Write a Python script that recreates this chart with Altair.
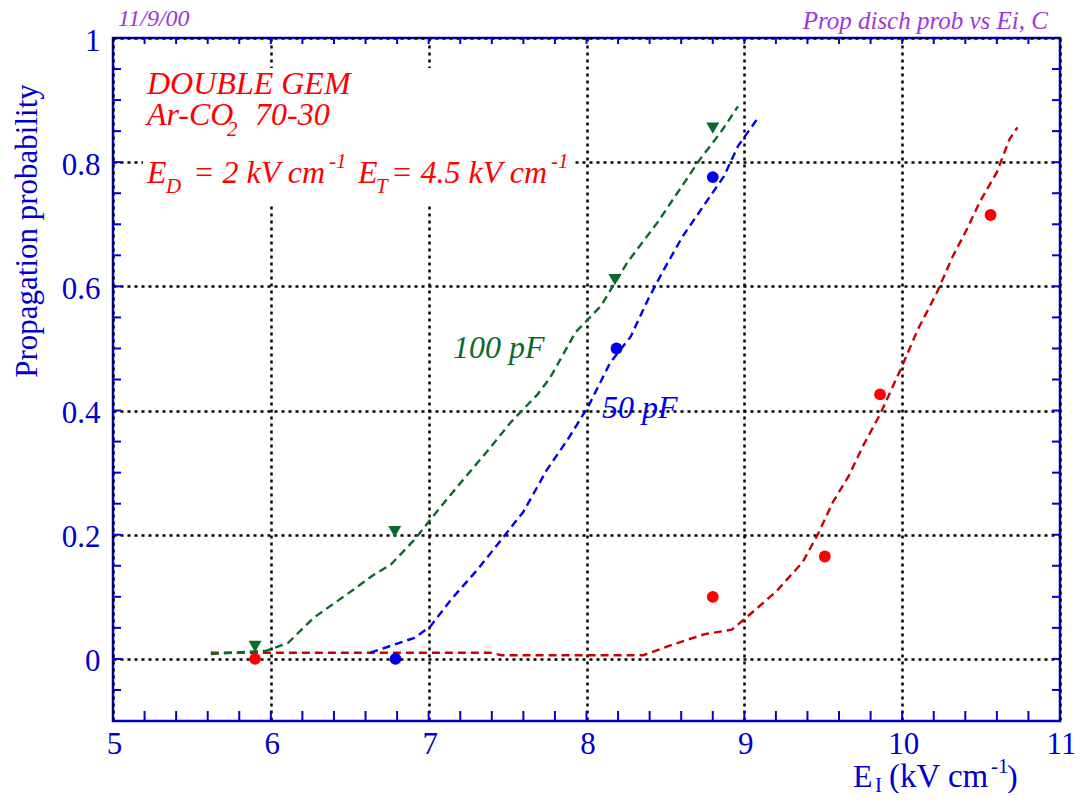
import altair as alt
import pandas as pd

# ---------------- data ----------------
red_pts_x = [5.90, 8.80, 9.51, 9.86, 10.56]
red_pts_y = [0.0, 0.100, 0.165, 0.426, 0.715]
blue_pts_x = [6.79, 8.19, 8.80]
blue_pts_y = [0.0, 0.500, 0.776]
green_pts_x = [5.90, 6.785, 8.18, 8.80]
green_pts_y = [0.020, 0.205, 0.611, 0.855]

red_curve_x = [5.62, 7.39, 7.46, 8.36, 8.58, 8.75, 8.92, 9.01, 9.20, 9.37, 9.47, 9.56,
               9.66, 9.75, 9.86, 9.99, 10.10, 10.22, 10.32, 10.41, 10.49, 10.60, 10.68, 10.73]
red_curve_y = [0.010, 0.010, 0.006, 0.006, 0.026, 0.040, 0.047, 0.066, 0.108, 0.156, 0.203, 0.252,
               0.294, 0.342, 0.394, 0.466, 0.531, 0.590, 0.648, 0.692, 0.735, 0.784, 0.837, 0.856]
blue_curve_x = [6.63, 6.91, 7.01, 7.14, 7.31, 7.46, 7.60, 7.75, 7.88, 8.01, 8.15, 8.28,
                8.39, 8.49, 8.61, 8.74, 8.87, 8.96, 9.08]
blue_curve_y = [0.010, 0.034, 0.052, 0.095, 0.144, 0.192, 0.237, 0.305, 0.353, 0.406, 0.477, 0.519,
                0.579, 0.627, 0.681, 0.729, 0.777, 0.826, 0.869]
green_curve_x = [5.62, 5.97, 6.11, 6.27, 6.46, 6.65, 6.76, 6.91, 7.06, 7.22, 7.37, 7.52, 7.69,
                 7.77, 7.93, 8.09, 8.26, 8.45, 8.58, 8.72, 8.85, 8.96]
green_curve_y = [0.008, 0.013, 0.026, 0.066, 0.100, 0.135, 0.152, 0.192, 0.240, 0.289, 0.334, 0.381,
                 0.426, 0.453, 0.526, 0.568, 0.639, 0.703, 0.752, 0.805, 0.848, 0.890]

x_major = [5, 6, 7, 8, 9, 10, 11]
y_major = [0, 0.2, 0.4, 0.6, 0.8, 1]
x_ticks = [round(5 + 0.2 * i, 2) for i in range(1, 30)]
y_ticks = [round(-0.1 + 0.05 * i, 2) for i in range(1, 22)]

# ---------------- layout ----------------
W, H = 947, 683
OX, OY = 113, 38  # page position of plot origin
FONT = "Liberation Serif"
AXC = "#0000cc"
RED, BLUE, GREEN = "#ff0000", "#0000ee", "#0a6b28"
RED_L, BLUE_L, GREEN_L = "#cc0000", "#0000ee", "#0a6b28"
PURPLE = "#a035dc"

xs = alt.Scale(domain=[5, 11], nice=False, zero=False)
ys = alt.Scale(domain=[-0.1, 1], nice=False, zero=False)

def pts_df(x, y):
    return pd.DataFrame({"x": x, "y": y})

def curve_df(x, y):
    return pd.DataFrame({"x": x, "y": y, "i": list(range(len(x)))})

base_x = alt.X("x:Q", scale=xs, axis=alt.Axis(
    values=x_major, title=None, ticks=False, domain=False, grid=True,
    gridColor="black", gridDash=[3, 4], gridWidth=2.5, labelFont=FONT,
    labelFontSize=31, labelColor=AXC, labelPadding=8, labelFlush=False, labelOffset=1,
    labelExpr="'' + datum.value"))
base_y = alt.Y("y:Q", scale=ys, axis=alt.Axis(
    values=y_major, title=None, ticks=False, domain=False, grid=True,
    gridColor="black", gridDash=[3, 4], gridWidth=2.5, labelFont=FONT,
    labelFontSize=31, labelColor=AXC, labelPadding=13, labelFlush=False, labelOffset=3,
    labelExpr="'' + datum.value"))

# white box behind the annotation
box = alt.Chart(pd.DataFrame({"a": [0]})).mark_rect(fill="white").encode(
    x=alt.value(143 - OX), x2=alt.value(572 - OX), y=alt.value(68 - OY), y2=alt.value(203 - OY))

def curve(x, y, color):
    return alt.Chart(curve_df(x, y)).mark_line(
        color=color, strokeDash=[8, 5], strokeWidth=2.4).encode(
        x=alt.X("x:Q", scale=xs), y=alt.Y("y:Q", scale=ys), order="i:Q")

def points(x, y, color, shape, size):
    return alt.Chart(pts_df(x, y)).mark_point(
        filled=True, color=color, shape=shape, size=size, opacity=1).encode(
        x=alt.X("x:Q", scale=xs), y=alt.Y("y:Q", scale=ys))

axis_layer = alt.Chart(pts_df(red_pts_x, red_pts_y)).mark_point(opacity=0).encode(x=base_x, y=base_y)

# inward ticks
tx = pd.DataFrame({"x": x_ticks})
ty = pd.DataFrame({"y": y_ticks})
tick_bottom = alt.Chart(tx).mark_rule(color=AXC, strokeWidth=2).encode(
    x=alt.X("x:Q", scale=xs), y=alt.value(H), y2=alt.value(H - 10))
tick_top = alt.Chart(tx).mark_rule(color=AXC, strokeWidth=2).encode(
    x=alt.X("x:Q", scale=xs), y=alt.value(0), y2=alt.value(6))
tick_left = alt.Chart(ty).mark_rule(color=AXC, strokeWidth=2).encode(
    y=alt.Y("y:Q", scale=ys), x=alt.value(0), x2=alt.value(8))
tick_right = alt.Chart(ty).mark_rule(color=AXC, strokeWidth=2).encode(
    y=alt.Y("y:Q", scale=ys), x=alt.value(W), x2=alt.value(W - 8))

def txt(text, px, py, size, color, italic=True, align="left", angle=0, baseline="alphabetic"):
    kw = dict(text=text, font=FONT, fontSize=size, color=color, align=align, baseline=baseline)
    if italic:
        kw["fontStyle"] = "italic"
    if angle:
        kw["angle"] = angle
    return alt.Chart(pd.DataFrame({"a": [0]})).mark_text(**kw).encode(
        x=alt.value(px - OX), y=alt.value(py - OY))

texts = [
    txt("11/9/00", 118, 26, 24, PURPLE),
    txt("Prop disch prob vs Ei, C", 1048, 29, 25, PURPLE, align="right"),
    txt("DOUBLE GEM", 147, 94, 32, RED),
    txt("Ar-CO", 147, 125, 32, RED),
    txt("2", 227, 136, 21, RED),
    txt("70-30", 255, 125, 32, RED),
    txt("E", 147, 183, 32, RED),
    txt("D", 166, 193, 21, RED),
    txt("= 2 kV cm", 193, 183, 32, RED),
    txt("-1", 329, 168, 21, RED),
    txt("E", 358, 183, 32, RED),
    txt("T", 376, 193, 21, RED),
    txt("= 4.5 kV cm", 391, 183, 32, RED),
    txt("-1", 551, 168, 21, RED),
    txt("100 pF", 453, 358, 32, GREEN),
    txt("50 pF", 602, 418, 32, BLUE),
    txt("Propagation probability", 28, 231, 31, AXC, italic=False, align="center", angle=270,
        baseline="middle"),
    txt("E", 853, 787, 32, AXC, italic=False),
    txt("I", 875, 792, 21, AXC, italic=False),
    txt("(kV cm", 889, 787, 33, AXC, italic=False),
    txt("-1", 991, 773, 21, AXC, italic=False),
    txt(")", 1007, 787, 32, AXC, italic=False),
]

chart = alt.layer(
    axis_layer,
    box,
    curve(red_curve_x, red_curve_y, RED_L),
    curve(blue_curve_x, blue_curve_y, BLUE_L),
    curve(green_curve_x, green_curve_y, GREEN_L),
    points(red_pts_x, red_pts_y, RED, "circle", 140),
    points(blue_pts_x, blue_pts_y, BLUE, "circle", 140),
    points(green_pts_x, green_pts_y, GREEN, "triangle-down", 170),
    tick_bottom, tick_top, tick_left, tick_right,
    *texts,
).properties(
    width=W, height=H,
    autosize=alt.AutoSizeParams(type="none"),
    padding={"left": OX - 8, "top": OY - 8, "right": 14, "bottom": 72},
).configure_view(stroke=AXC, strokeWidth=2.5)

chart.save("out.html", embed_options={"renderer": "svg", "actions": False})
